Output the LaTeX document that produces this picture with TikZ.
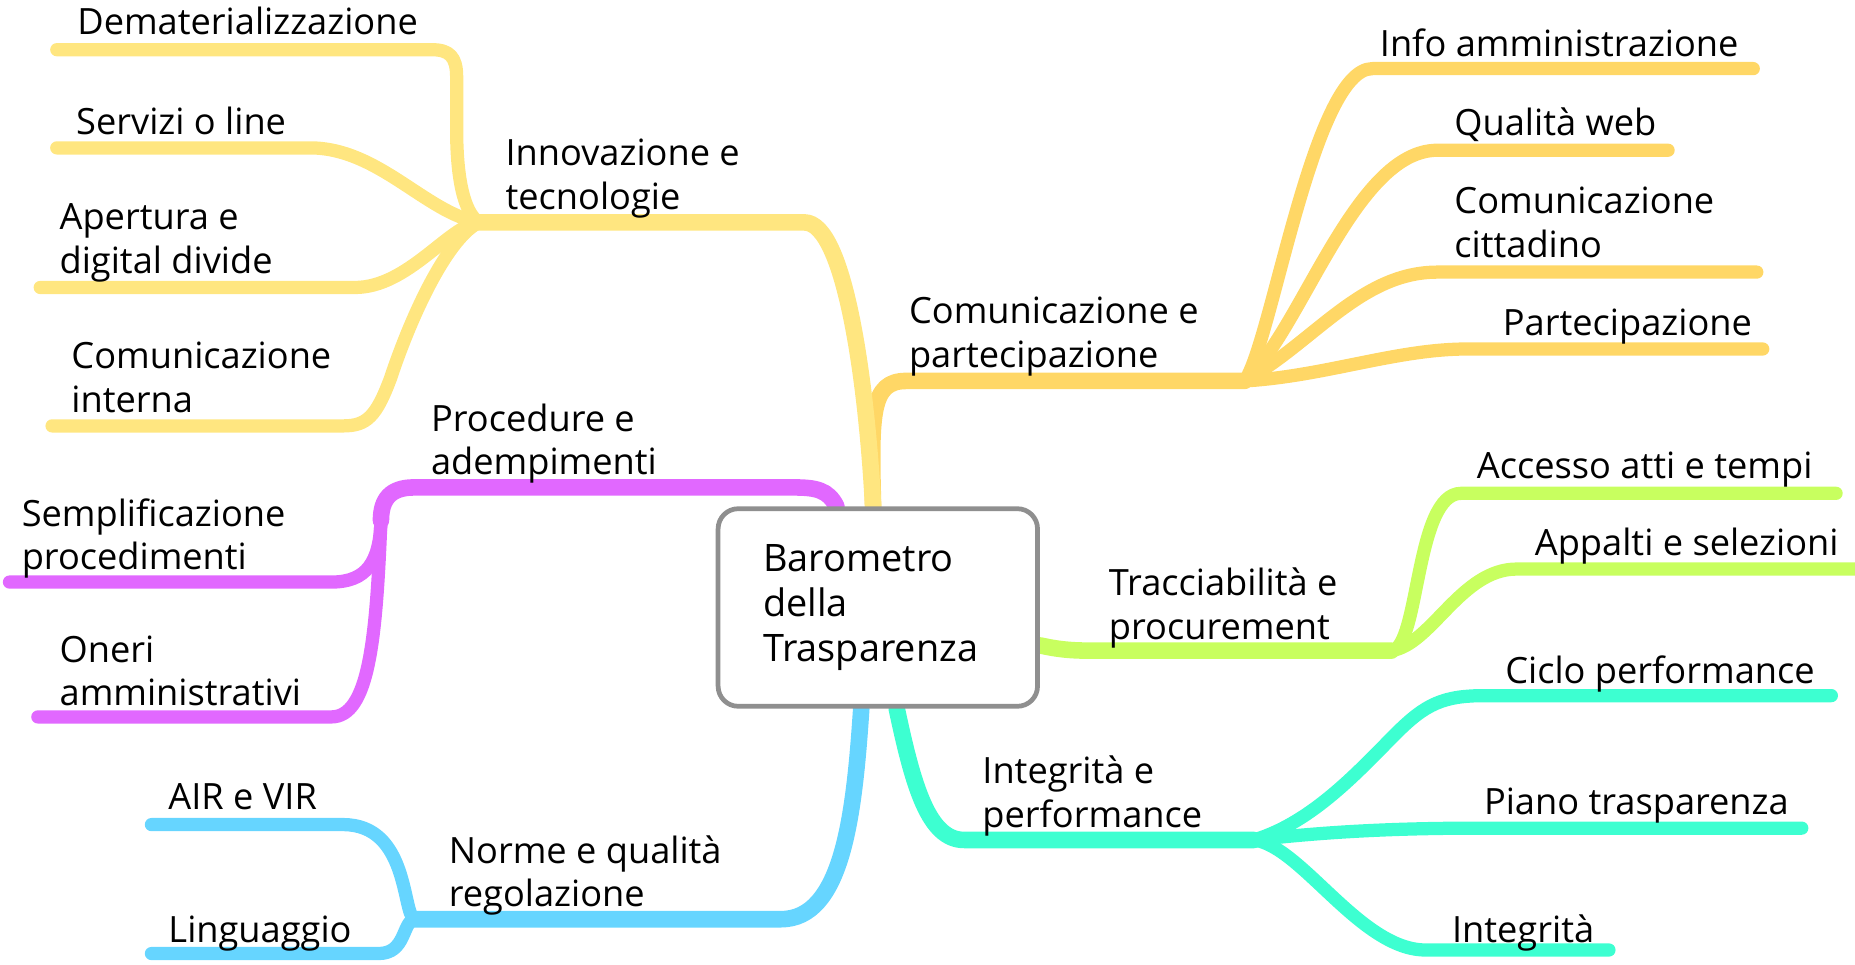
\documentclass[tikz,border=0pt]{standalone}
\usepackage{fontspec}
\setmainfont{Open Sans}
\definecolor{cInno}{HTML}{FFE680}
\definecolor{cComm}{HTML}{FFD766}
\definecolor{cProc}{HTML}{E168FF}
\definecolor{cTrac}{HTML}{C8FF5F}
\definecolor{cNorm}{HTML}{66D5FF}
\definecolor{cInte}{HTML}{3DFFD1}
\definecolor{boxgray}{HTML}{8F8F8F}
\pgfdeclarelayer{bg}
\pgfsetlayers{bg,main}
\begin{document}
\begin{tikzpicture}[x=0.5pt,y=-0.5pt,
  lbl/.style={anchor=north west, inner sep=0pt, align=left,
    font=\fontsize{15.3pt}{18.5pt}\selectfont, yshift=11.6pt},
  mainbr/.style={line width=7pt, line cap=round, line join=round},
  leaf/.style={line width=5.6pt, line cap=round, line join=round},
  rootbox/.style={draw=boxgray, line width=2pt, rounded corners=8.5pt, fill=white,
    minimum width=135pt, minimum height=83.5pt, text width=97pt, inner xsep=19pt,
    align=left, font=\fontsize{16pt}{19pt}\selectfont}
]
\useasboundingbox (0,0) rectangle (1568,815);

% central node
\node[rootbox] (root) at (742,513.5) {Barometro\\della\\Trasparenza};

% hubs
\coordinate (hI) at (405,188);
\coordinate (hC) at (1052,322);
\coordinate (hP) at (322,440);
\coordinate (hN) at (350,777);
\coordinate (hT) at (1176,550);
\coordinate (hG) at (1060,710);

% leaf ends
\coordinate (eDem) at (48,42);
\coordinate (eSer) at (48,125);
\coordinate (eApe) at (34,243);
\coordinate (eCoi) at (44,360);
\coordinate (eSem) at (8,492);
\coordinate (eOne) at (32,606);
\coordinate (eAIR) at (128,697);
\coordinate (eLin) at (128,806);
\coordinate (eInf) at (1482,58);
\coordinate (eQua) at (1410,127);
\coordinate (eCit) at (1485,230);
\coordinate (ePar) at (1490,295);
\coordinate (eAcc) at (1552,417);
\coordinate (eApp) at (1575,481);
\coordinate (eCic) at (1548,588);
\coordinate (ePia) at (1523,700);
\coordinate (eIn2) at (1360,803);

\begin{pgfonlayer}{bg}
% ---- Comunicazione e partecipazione (orange)
\draw[leaf,cComm] (hC) .. controls (1075,290) and (1110,58) .. (1160,58) -- (eInf);
\draw[leaf,cComm] (hC) .. controls (1100,280) and (1145,127) .. (1215,127) -- (eQua);
\draw[leaf,cComm] (hC) .. controls (1110,290) and (1150,230) .. (1215,230) -- (eCit);
\draw[leaf,cComm] (hC) .. controls (1120,318) and (1180,295) .. (1240,295) -- (ePar);
\draw[mainbr,cComm] ([xshift=-2pt]root.north) .. controls (736,350) and (736,322) .. (766,322) -- (hC);

% ---- Innovazione e tecnologie (yellow)
\draw[leaf,cInno] (hI) .. controls (392,180) and (386,150) .. (386,110) -- (386,65)
   .. controls (386,48) and (380,42) .. (365,42) -- (eDem);
\draw[leaf,cInno] (hI) .. controls (360,180) and (320,125) .. (262,125) -- (eSer);
\draw[leaf,cInno] (hI) .. controls (380,190) and (345,243) .. (300,243) -- (eApe);
\draw[leaf,cInno] (hI) .. controls (380,200) and (350,260) .. (330,320)
   .. controls (318,352) and (310,360) .. (290,360) -- (eCoi);
\draw[mainbr,cInno] ([xshift=-2pt]root.north) .. controls (733,330) and (715,188) .. (680,188) -- (hI);

% ---- Procedure e adempimenti (magenta)
\draw[leaf,cProc] (hP) .. controls (321,475) and (310,492) .. (280,492) -- (eSem);
\draw[leaf,cProc] (hP) .. controls (318,540) and (312,606) .. (280,606) -- (eOne);
\draw[mainbr,cProc] ([xshift=-17.5pt]root.north) .. controls (700,414) and (690,412) .. (670,412)
   -- (350,412) .. controls (330,412) and (322,422) .. (hP);

% ---- Norme e qualita regolazione (blue)
\draw[leaf,cNorm] (hN) .. controls (340,770) and (345,697) .. (290,697) -- (eAIR);
\draw[leaf,cNorm] (hN) .. controls (340,780) and (343,806) .. (320,806) -- (eLin);
\draw[mainbr,cNorm] ([xshift=-7pt]root.south) .. controls (722,690) and (712,777) .. (660,777) -- (hN);

% ---- Tracciabilita e procurement (green)
\draw[leaf,cTrac] (hT) .. controls (1200,548) and (1196,417) .. (1235,417) -- (eAcc);
\draw[leaf,cTrac] (hT) .. controls (1210,545) and (1235,481) .. (1282,481) -- (eApp);
\draw[mainbr,cTrac] ([yshift=-16pt]root.east) .. controls (895,549) and (905,550) .. (925,550) -- (hT);

% ---- Integrita e performance (turquoise)
\draw[leaf,cInte] (hG) .. controls (1110,695) and (1150,650) .. (1180,620)
   .. controls (1205,595) and (1220,588) .. (1255,588) -- (eCic);
\draw[leaf,cInte] (hG) .. controls (1120,703) and (1180,700) .. (1250,700) -- (ePia);
\draw[leaf,cInte] (hG) .. controls (1100,715) and (1150,803) .. (1205,803) -- (eIn2);
\draw[mainbr,cInte] ([xshift=8pt]root.south) .. controls (772,665) and (785,710) .. (815,710) -- (hG);
\end{pgfonlayer}

% ---- labels
\node[lbl] (lDem) at (65,29) {Dematerializzazione};
\node[lbl] (lSer) at (64,113) {Servizi o line};
\node[lbl] (lApe) at (50,195) {Apertura e\\digital divide};
\node[lbl] (lCoi) at (60,312) {Comunicazione\\interna};
\node[lbl] (lInn) at (427,140) {Innovazione e\\tecnologie};
\node[lbl] (lPro) at (364,364) {Procedure e\\adempimenti};
\node[lbl] (lSem) at (18,444) {Semplificazione\\procedimenti};
\node[lbl] (lOne) at (50,560) {Oneri\\amministrativi};
\node[lbl] (lAIR) at (142,685) {AIR e VIR};
\node[lbl] (lLin) at (142,797) {Linguaggio};
\node[lbl] (lNor) at (379,729) {Norme e qualità\\regolazione};
\node[lbl] (lCom) at (768,274) {Comunicazione e\\partecipazione};
\node[lbl] (lInf) at (1166,47) {Info amministrazione};
\node[lbl] (lQua) at (1229,114) {Qualità web};
\node[lbl] (lCit) at (1229,181) {Comunicazione\\cittadino};
\node[lbl] (lPar) at (1270,284) {Partecipazione};
\node[lbl] (lAcc) at (1248,405) {Accesso atti e tempi};
\node[lbl] (lApp) at (1297,469) {Appalti e selezioni};
\node[lbl] (lTra) at (937,503) {Tracciabilità e\\procurement};
\node[lbl] (lCic) at (1272,577) {Ciclo performance};
\node[lbl] (lIng) at (830,662) {Integrità e\\performance};
\node[lbl] (lPia) at (1254,689) {Piano trasparenza};
\node[lbl] (lIn2) at (1227,796) {Integrità};
\end{tikzpicture}
\end{document}
